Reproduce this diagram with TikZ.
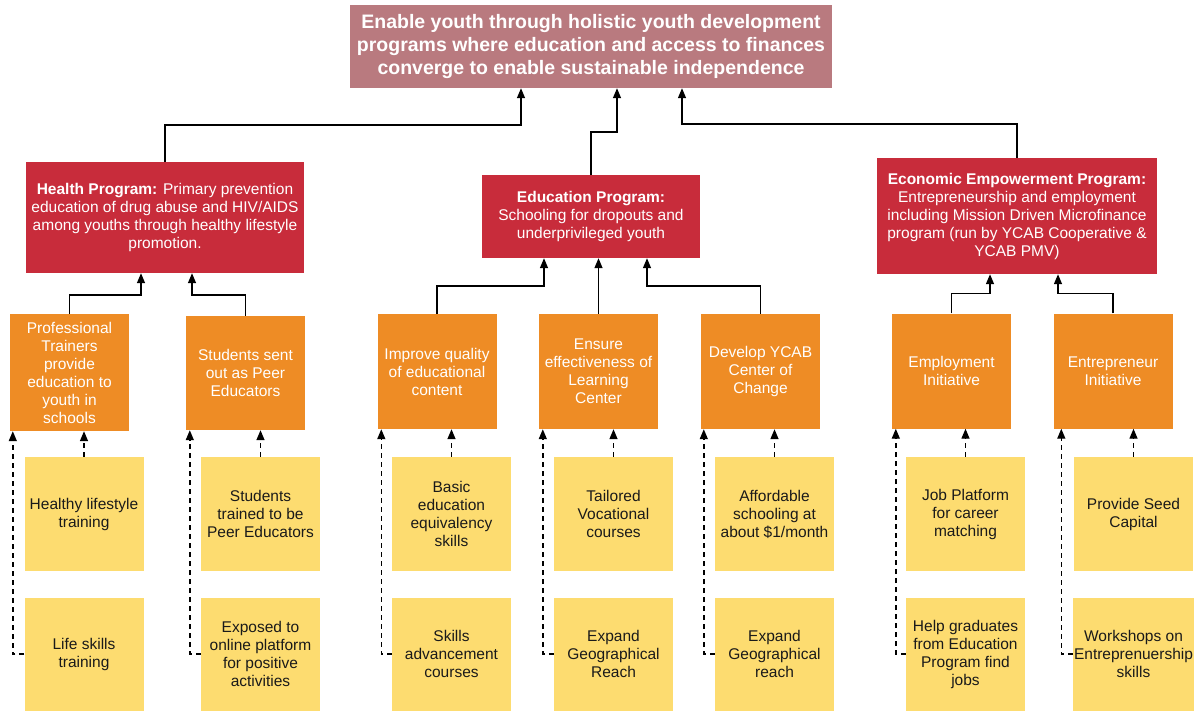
\documentclass[tikz,border=0pt]{standalone}
\usepackage{fontspec}
\setmainfont{Liberation Sans}
\usetikzlibrary{arrows.meta}

\definecolor{goalc}{HTML}{B97A7F}
\definecolor{progc}{HTML}{C82C3B}
\definecolor{initc}{HTML}{EE8C25}
\definecolor{leafc}{HTML}{FDDC70}
\definecolor{inkc}{HTML}{1A1A1A}

\tikzset{
  goalbox/.style={fill=goalc, text=white, align=center, inner sep=2pt,
    font=\bfseries\fontsize{19.5}{23}\selectfont,
    minimum width=482pt, minimum height=83pt},
  progbox/.style={fill=progc, text=white, align=center, inner sep=2pt,
    font=\fontsize{15.5}{18}\selectfont},
  initbox/.style={fill=initc, text=white, align=center, inner sep=2pt,
    font=\fontsize{15.5}{18}\selectfont,
    minimum width=119pt, minimum height=115pt},
  leafbox/.style={fill=leafc, text=inkc, align=center, inner sep=1pt,
    font=\fontsize{15.5}{18}\selectfont,
    minimum width=119pt, minimum height=114pt},
  link/.style={draw=black, line width=1.4pt,
    -{Triangle[length=10pt,width=8pt]}},
  dlink/.style={link, dash pattern=on 5pt off 4pt}
}

\begin{document}
\begin{tikzpicture}[x=1pt, y=-1pt]
\useasboundingbox (0,0) rectangle (1199,710);

% goal
\node[goalbox] (goal) at (591,46.5)
  {Enable youth through holistic youth development\\
   programs where education and access to finances\\
   converge to enable sustainable independence};

% programs
\node[progbox, minimum width=278pt, minimum height=111pt] (health) at (165,217.5)
  {\textbf{Health Program:} Primary prevention\\
   education of drug abuse and HIV/AIDS\\
   among youths through healthy lifestyle\\
   promotion.};
\node[progbox, minimum width=218pt, minimum height=83pt] (edu) at (591,216.5)
  {\textbf{Education Program:}\\
   Schooling for dropouts and\\
   underprivileged youth};
\node[progbox, minimum width=280pt, minimum height=116pt] (econ) at (1017,216)
  {\textbf{Economic Empowerment Program:}\\
   Entrepreneurship and employment\\
   including Mission Driven Microfinance\\
   program (run by YCAB Cooperative \&\\
   YCAB PMV)};

% initiatives
\node[initbox, minimum height=117pt] (prof) at (69.5,372.5)
  {Professional\\Trainers\\provide\\education to\\youth in\\schools};
\node[initbox, minimum height=114pt] (peer) at (245.5,373)
  {Students sent\\out as Peer\\Educators};
\node[initbox] (improve) at (437,371.5)
  {Improve quality\\of educational\\content};
\node[initbox] (ensure) at (598.5,371.5)
  {Ensure\\effectiveness of\\Learning\\Center};
\node[initbox] (develop) at (760.5,371.5)
  {Develop YCAB\\Center of\\Change};
\node[initbox] (employ) at (951.5,371)
  {Employment\\Initiative};
\node[initbox] (entre) at (1113,371)
  {Entrepreneur\\Initiative};

% activities, upper row
\node[leafbox] (healthy) at (84,514) {Healthy lifestyle\\training};
\node[leafbox] (trained) at (260.5,514) {Students\\trained to be\\Peer Educators};
\node[leafbox] (basic) at (451.5,514) {Basic\\education\\equivalency\\skills};
\node[leafbox] (tailored) at (613.5,514) {Tailored\\Vocational\\courses};
\node[leafbox] (afford) at (774.5,514) {Affordable\\schooling at\\about \$1/month};
\node[leafbox] (job) at (965.5,514) {Job Platform\\for career\\matching};
\node[leafbox] (seed) at (1133.5,514) {Provide Seed\\Capital};

% activities, lower row
\node[leafbox, minimum height=113pt] (life) at (84,654) {Life skills\\training};
\node[leafbox, minimum height=113pt] (online) at (260.5,654) {Exposed to\\online platform\\for positive\\activities};
\node[leafbox, minimum height=113pt] (advance) at (451.5,654) {Skills\\advancement\\courses};
\node[leafbox, minimum height=113pt] (reachA) at (613.5,654) {Expand\\Geographical\\Reach};
\node[leafbox, minimum height=113pt] (reachB) at (774.5,654) {Expand\\Geographical\\reach};
\node[leafbox, minimum height=113pt] (grads) at (965.5,654) {Help graduates\\from Education\\Program find\\jobs};
\node[leafbox, minimum height=113pt] (workshop) at (1133.5,654) {Workshops on\\Entreprenuership\\skills};

% programs to goal
\draw[link] (health.north) -- ++(0,-37) -| ([xshift=-70pt]goal.south);
\draw[link] (edu.north) -- ++(0,-43) -| ([xshift=26pt]goal.south);
\draw[link] (econ.north) -- ++(0,-34) -| ([xshift=91pt]goal.south);

% initiatives to programs
\draw[link] (prof.north) -- ++(0,-19) -| ([xshift=-24pt]health.south);
\draw[link] (peer.north) -- ++(0,-21) -| ([xshift=27pt]health.south);
\draw[link] (improve.north) -- ++(0,-28) -| ([xshift=-47pt]edu.south);
\draw[link] (ensure.north) -- (ensure.north |- edu.south);
\draw[link] (develop.north) -- ++(0,-28) -| ([xshift=56pt]edu.south);
\draw[link] (employ.north) -- ++(0,-20) -| ([xshift=-27pt]econ.south);
\draw[link] (entre.north) -- ++(0,-20) -| ([xshift=41pt]econ.south);

% activities to initiatives
\draw[dlink] (healthy.north) -- (healthy.north |- prof.south);
\draw[dlink] (life.west) -| ([xshift=3pt]prof.south west);
\draw[dlink] (trained.north) -- (trained.north |- peer.south);
\draw[dlink] (online.west) -| ([xshift=4pt]peer.south west);
\draw[dlink] (basic.north) -- (basic.north |- improve.south);
\draw[dlink] (advance.west) -| ([xshift=4pt]improve.south west);
\draw[dlink] (tailored.north) -- (tailored.north |- ensure.south);
\draw[dlink] (reachA.west) -| ([xshift=4pt]ensure.south west);
\draw[dlink] (afford.north) -- (afford.north |- develop.south);
\draw[dlink] (reachB.west) -| ([xshift=3pt]develop.south west);
\draw[dlink] (job.north) -- (job.north |- employ.south);
\draw[dlink] (grads.west) -| ([xshift=4pt]employ.south west);
\draw[dlink] (seed.north) -- (seed.north |- entre.south);
\draw[dlink] (workshop.west) -| ([xshift=8pt]entre.south west);
\end{tikzpicture}
\end{document}
